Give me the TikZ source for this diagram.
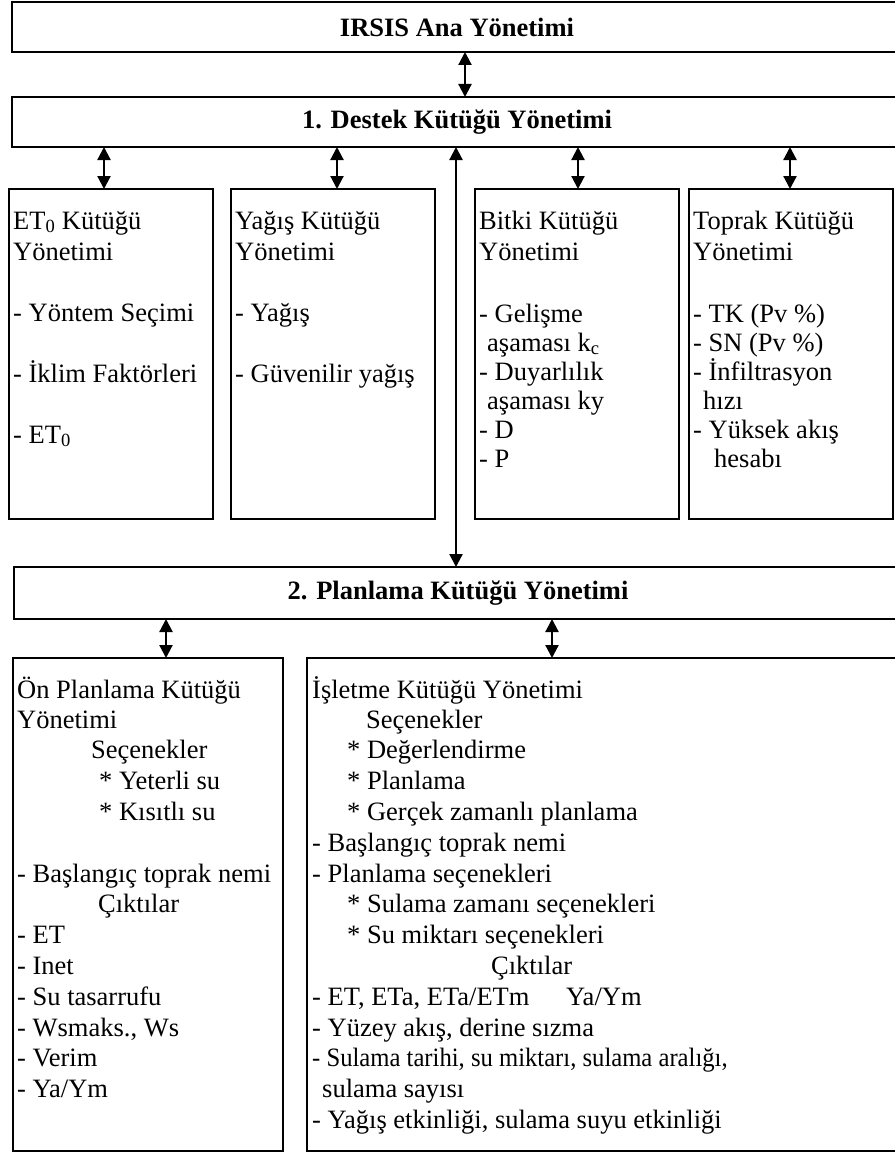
\documentclass[tikz,border=0pt]{standalone}
\usepackage{fontspec}
\setmainfont{Liberation Serif}
\usetikzlibrary{arrows.meta}
\begin{document}
\begin{tikzpicture}[x=1pt,y=-1pt,
  box/.style={draw,line width=1.8pt,anchor=north west,inner sep=0pt,outer sep=0pt},
  title/.style={inner sep=0pt,font=\fontsize{26.5}{30}\selectfont\bfseries},
  txt/.style={anchor=base west,inner sep=0pt,font=\fontsize{26.5}{30}\selectfont},
  dbl/.style={line width=2.2pt,{Triangle[width=13pt,length=13pt]}-{Triangle[width=13pt,length=13pt]}}]
\useasboundingbox (0,0) rectangle (894,1153);
% boxes
\node[box,minimum width=890pt,minimum height=50pt] (ana) at (12,2) {};
\node[title] (anat) at (ana.center) {IRSIS Ana Yönetimi};
\node[box,minimum width=890pt,minimum height=50pt] (destek) at (12,97) {};
\node[title] (destekt) at (destek.center) {1. Destek Kütüğü Yönetimi};
\node[box,minimum width=204pt,minimum height=330pt] (et) at (9,189) {};
\node[box,minimum width=204pt,minimum height=330pt] (yg) at (231,189) {};
\node[box,minimum width=204pt,minimum height=330pt] (bt) at (475,189) {};
\node[box,minimum width=204pt,minimum height=330pt] (tp) at (689,189) {};
\node[box,minimum width=888pt,minimum height=52pt] (plan) at (14,567) {};
\node[title] (plant) at (plan.center) {2. Planlama Kütüğü Yönetimi};
\node[box,minimum width=270pt,minimum height=493pt] (on) at (13,658) {};
\node[box,minimum width=595pt,minimum height=493pt] (is) at (307,658) {};
% connectors
\coordinate (c0) at (465,0);
\coordinate (c1) at (104,0);
\coordinate (c2) at (337,0);
\coordinate (c3) at (578,0);
\coordinate (c4) at (790,0);
\coordinate (cm) at (456,0);
\coordinate (c5) at (166,0);
\coordinate (c6) at (552,0);
\draw[dbl] (c0 |- ana.south) -- (c0 |- destek.north);
\draw[dbl] (c1 |- destek.south) -- (c1 |- et.north);
\draw[dbl] (c2 |- destek.south) -- (c2 |- yg.north);
\draw[dbl] (c3 |- destek.south) -- (c3 |- bt.north);
\draw[dbl] (c4 |- destek.south) -- (c4 |- tp.north);
\draw[dbl] (cm |- destek.south) -- (cm |- plan.north);
\draw[dbl] (c5 |- plan.south) -- (c5 |- on.north);
\draw[dbl] (c6 |- plan.south) -- (c6 |- is.north);
% ET0 box
\node[txt] (e1) at (13,229) {ET\textsubscript{0} Kütüğü};
\node[txt] (e2) at (13,260) {Yönetimi};
\node[txt] (e3) at (13,321) {- Yöntem Seçimi};
\node[txt] (e4) at (13,382) {- İklim Faktörleri};
\node[txt] (e5) at (13,443) {- ET\textsubscript{0}};
% Yagis box
\node[txt] (y1) at (235,229) {Yağış Kütüğü};
\node[txt] (y2) at (235,260) {Yönetimi};
\node[txt] (y3) at (235,321) {- Yağış};
\node[txt] (y4) at (235,382) {- Güvenilir yağış};
% Bitki box
\node[txt] (b1) at (479,229) {Bitki Kütüğü};
\node[txt] (b2) at (479,260) {Yönetimi};
\node[txt] (b3) at (479,322) {- Gelişme};
\node[txt] (b4) at (487,351) {aşaması k\textsubscript{c}};
\node[txt] (b5) at (479,380) {- Duyarlılık};
\node[txt] (b6) at (487,409) {aşaması ky};
\node[txt] (b7) at (479,438) {- D};
\node[txt] (b8) at (479,467) {- P};
% Toprak box
\node[txt] (t1) at (693,229) {Toprak Kütüğü};
\node[txt] (t2) at (693,260) {Yönetimi};
\node[txt] (t3) at (693,322) {- TK (Pv \%)};
\node[txt] (t4) at (693,351) {- SN (Pv \%)};
\node[txt] (t5) at (693,380) {- İnfiltrasyon};
\node[txt] (t6) at (703,409) {hızı};
\node[txt] (t7) at (693,438) {- Yüksek akış};
\node[txt] (t8) at (714,467) {hesabı};
% On planlama box
\node[txt] (o1) at (17,698) {Ön Planlama Kütüğü};
\node[txt] (o2) at (17,728) {Yönetimi};
\node[txt] (o3) at (91,758) {Seçenekler};
\node[txt] (o4) at (99,789) {* Yeterli su};
\node[txt] (o5) at (99,820) {* Kısıtlı su};
\node[txt] (o6) at (17,882) {- Başlangıç toprak nemi};
\node[txt] (o7) at (98,912) {Çıktılar};
\node[txt] (o8) at (17,943) {- ET};
\node[txt] (o9) at (17,974) {- Inet};
\node[txt] (o10) at (17,1005) {- Su tasarrufu};
\node[txt] (o11) at (17,1036) {- Wsmaks., Ws};
\node[txt] (o12) at (17,1066) {- Verim};
\node[txt] (o13) at (17,1097) {- Ya/Ym};
% Isletme box
\node[txt] (i1) at (312,698) {İşletme Kütüğü Yönetimi};
\node[txt] (i2) at (366,728) {Seçenekler};
\node[txt] (i3) at (347,758) {* Değerlendirme};
\node[txt] (i4) at (347,789) {* Planlama};
\node[txt] (i5) at (347,820) {* Gerçek zamanlı planlama};
\node[txt] (i6) at (312,851) {- Başlangıç toprak nemi};
\node[txt] (i7) at (312,882) {- Planlama seçenekleri};
\node[txt] (i8) at (347,912) {* Sulama zamanı seçenekleri};
\node[txt] (i9) at (347,943) {* Su miktarı seçenekleri};
\node[txt] (i10) at (491,974) {Çıktılar};
\node[txt] (i11) at (312,1005) {\makebox[254pt][l]{- ET, ETa, ETa/ETm}Ya/Ym};
\node[txt] (i12) at (312,1036) {- Yüzey akış, derine sızma};
\node[txt] (i13) at (312,1066) {\scalebox{0.93}[1]{- Sulama tarihi, su miktarı, sulama aralığı,}};
\node[txt] (i14) at (322,1097) {sulama sayısı};
\node[txt] (i15) at (312,1128) {- Yağış etkinliği, sulama suyu etkinliği};
\end{tikzpicture}
\end{document}
